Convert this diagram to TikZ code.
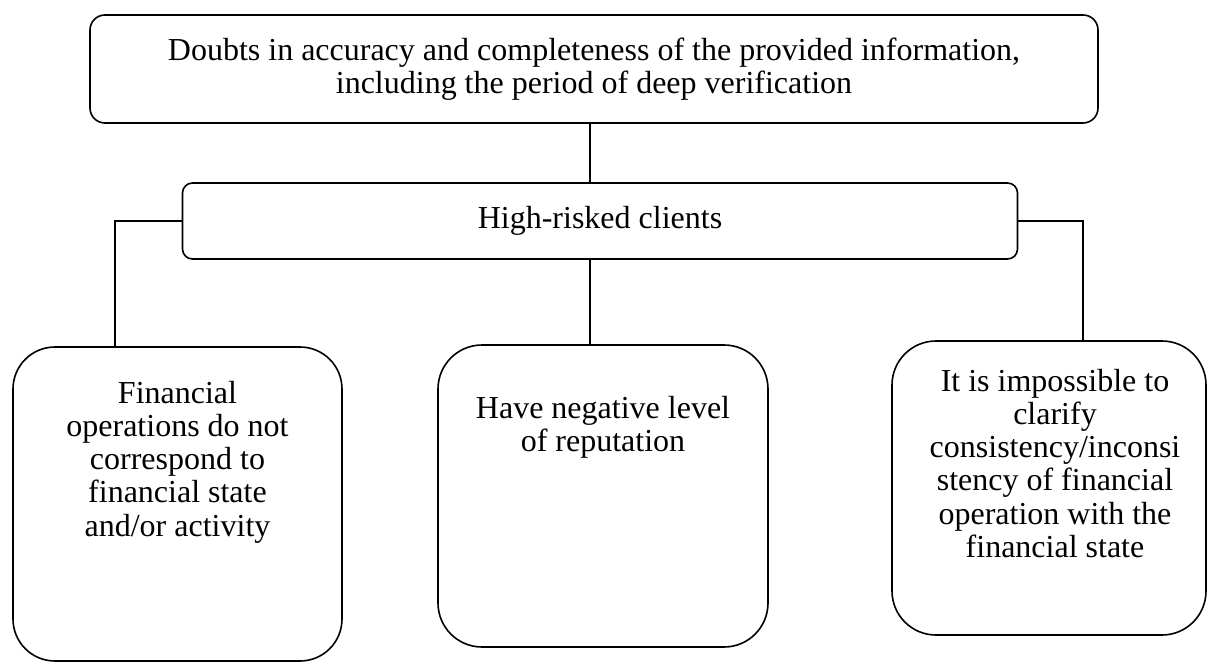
\documentclass[tikz,border=0pt]{standalone}
\usepackage{fontspec}
\setmainfont{Liberation Serif}
\usetikzlibrary{positioning}

\begin{document}
\begin{tikzpicture}[x=0.5pt, y=-0.5pt, line width=0.8pt,
    font=\fontsize{16}{16.6}\selectfont,
    box/.style={draw, rectangle, rounded corners=#1, inner sep=0pt, align=center},
    box/.default=5pt,
    boxtext/.style={align=center, inner sep=0pt}]
    \useasboundingbox (0,0) rectangle (1208,663);

    % Upper boxes
    \node[box=7.5pt, minimum width=504pt, minimum height=54pt] (doubts) at (594,69)
        {Doubts in accuracy and completeness of the provided information,\\ including the period of deep verification};
    \node[box=5pt, minimum width=417.5pt, minimum height=38pt] (risk) at (600,221) {High-risked clients};

    % Lower boxes
    \node[box=21pt, minimum width=164.5pt, minimum height=157pt] (fin) at (177.5,504) {};
    \node[box=22pt, minimum width=165pt, minimum height=151pt] (rep) at (603,496) {};
    \node[box=22pt, minimum width=157pt, minimum height=147pt] (clar) at (1049,488) {};

    % Texts of the lower boxes (set near the top)
    \node[boxtext, below=17pt of fin.north] (fintext)
        {Financial\\ operations do not\\ correspond to\\ financial state\\ and/or activity};
    \node[boxtext, below=25.5pt of rep.north] (reptext) {Have negative level\\ of reputation};
    \node[boxtext, below=14pt of clar.north, xshift=3pt] (clartext)
        {It is impossible to\\ clarify\\ consistency/inconsi\\ stency of financial\\ operation with the\\ financial state};

    % Connectors
    \coordinate (lfoot) at (115,0);
    \coordinate (mfoot) at (590,0);
    \coordinate (rfoot) at (1083,0);
    \draw (doubts.south -| mfoot) -- (risk.north -| mfoot);
    \draw (risk.west) -| (fin.north -| lfoot);
    \draw (risk.east) -| (clar.north -| rfoot);
    \draw (risk.south -| mfoot) -- (rep.north -| mfoot);
\end{tikzpicture}
\end{document}
